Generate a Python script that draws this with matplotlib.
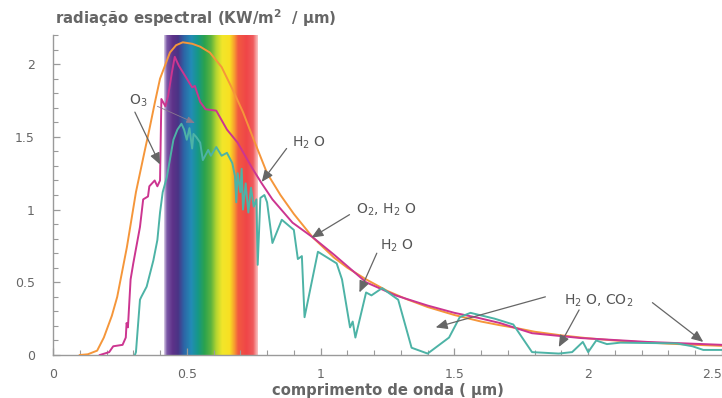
import numpy as np
import matplotlib
matplotlib.use("Agg")
import matplotlib.pyplot as plt
from matplotlib.colors import LinearSegmentedColormap
from matplotlib.ticker import MultipleLocator

plt.rcParams['font.family'] = ['DejaVu Sans']
plt.rcParams['mathtext.default'] = 'regular'

# Black-body curve (orange)
orange_x = [0.10, 0.13, 0.165, 0.19, 0.22, 0.24, 0.276, 0.31, 0.34, 0.36, 0.38, 0.40,
            0.437, 0.46, 0.485, 0.52, 0.55, 0.586, 0.63, 0.67, 0.71, 0.746, 0.80, 0.85,
            0.90, 0.97, 1.05, 1.10, 1.17, 1.25, 1.32, 1.40, 1.50, 1.60, 1.67, 1.73, 1.80,
            1.90, 2.00, 2.10, 2.20, 2.30, 2.40, 2.50]
orange_y = [0.0, 0.005, 0.03, 0.12, 0.27, 0.40, 0.74, 1.12, 1.38, 1.55, 1.73, 1.90,
            2.08, 2.13, 2.15, 2.14, 2.12, 2.08, 1.98, 1.83, 1.67, 1.50, 1.25, 1.10,
            0.97, 0.81, 0.67, 0.60, 0.52, 0.44, 0.385, 0.33, 0.275, 0.23, 0.205, 0.186, 0.16,
            0.135, 0.115, 0.10, 0.088, 0.078, 0.07, 0.063]

# Top of atmosphere (magenta)
top_x = [0.175, 0.21, 0.225, 0.26, 0.272, 0.275, 0.28, 0.29, 0.30, 0.325, 0.337, 0.355,
         0.36, 0.38, 0.39, 0.40, 0.405, 0.42, 0.43, 0.445, 0.455, 0.47, 0.50, 0.52, 0.53,
         0.55, 0.57, 0.61, 0.65, 0.69, 0.746, 0.78, 0.82, 0.895, 0.97, 1.05, 1.17, 1.28,
         1.40, 1.50, 1.59, 1.67, 1.79, 1.97, 2.22, 2.50]
top_y = [0.0, 0.02, 0.06, 0.07, 0.12, 0.22, 0.19, 0.52, 0.63, 0.88, 1.07, 1.09,
         1.16, 1.20, 1.16, 1.20, 1.76, 1.71, 1.78, 1.95, 2.05, 1.99, 1.90, 1.84, 1.85,
         1.74, 1.69, 1.68, 1.55, 1.46, 1.28, 1.18, 1.07, 0.91, 0.81, 0.69, 0.50, 0.41,
         0.34, 0.29, 0.255, 0.22, 0.15, 0.117, 0.09, 0.07]

# Sea level (teal)
sea_x = [0.306, 0.31, 0.325, 0.33, 0.35, 0.375, 0.39, 0.40, 0.41, 0.425, 0.45, 0.465,
         0.48, 0.49, 0.50, 0.51, 0.52, 0.525, 0.535, 0.55, 0.56, 0.58, 0.59, 0.61, 0.63,
         0.65, 0.67, 0.68, 0.685, 0.69, 0.70, 0.705, 0.71, 0.72, 0.73, 0.74, 0.75, 0.76,
         0.765, 0.775, 0.79, 0.80, 0.82, 0.855, 0.90, 0.915, 0.93, 0.94, 0.99, 1.06,
         1.08, 1.11, 1.12, 1.13, 1.17, 1.19, 1.23, 1.29, 1.34, 1.40, 1.48, 1.52, 1.56,
         1.65, 1.72, 1.79, 1.89, 1.94, 1.98, 2.00, 2.03, 2.07, 2.12, 2.33, 2.39, 2.43, 2.50]
sea_y = [0.0, 0.02, 0.38, 0.40, 0.47, 0.65, 0.79, 0.98, 1.12, 1.22, 1.48, 1.55,
         1.59, 1.55, 1.48, 1.56, 1.42, 1.52, 1.50, 1.46, 1.34, 1.41, 1.37, 1.43, 1.37,
         1.39, 1.32, 1.23, 1.05, 1.25, 1.12, 1.28, 1.00, 1.18, 0.98, 1.15, 1.02, 1.07,
         0.62, 1.08, 1.10, 1.05, 0.77, 0.93, 0.86, 0.66, 0.68, 0.26, 0.71, 0.63,
         0.52, 0.19, 0.23, 0.12, 0.43, 0.41, 0.46, 0.38, 0.05, 0.01, 0.12, 0.26, 0.29,
         0.25, 0.21, 0.02, 0.01, 0.02, 0.09, 0.02, 0.10, 0.075, 0.085, 0.08, 0.06, 0.035, 0.035]

# Visible band limits (µm)
visible = (0.415, 0.765)

x_ticks = [0, 0.5, 1, 1.5, 2, 2.5]
x_tick_labels = ["0", "0.5", "1", "1.5", "2", "2.5"]
y_ticks = [0, 0.5, 1, 1.5, 2]
y_tick_labels = ["0", "0.5", "1", "1.5", "2"]

notes = [
    # text, text position, arrows (start x, start y, tip x, tip y)
    ("O$_3$", (0.32, 1.75), [(0.306, 1.67, 0.40, 1.31)]),
    ("H$_2$ O", (0.955, 1.46), [(0.873, 1.42, 0.78, 1.19)]),
    ("O$_2$, H$_2$ O", (1.245, 0.995), [(1.108, 0.965, 0.966, 0.807)]),
    ("H$_2$ O", (1.285, 0.75), [(1.21, 0.70, 1.145, 0.43)]),
    ("H$_2$ O, CO$_2$", (2.04, 0.375), [(1.84, 0.40, 1.43, 0.19),
                                        (1.966, 0.31, 1.89, 0.055),
                                        (2.24, 0.36, 2.43, 0.09)]),
]

fig = plt.figure(figsize=(7.22, 3.98), dpi=100)
ax = fig.add_axes([0.0734, 0.108, 0.9266, 0.804])
ymax = 2.2
ax.set_xlim(0, 2.5)
ax.set_ylim(0, ymax)

# Rainbow band for the visible range
band_colors = [
    (0.00, "#d8cce6"), (0.03, "#7a57a6"), (0.09, "#5e3289"), (0.15, "#4a3486"),
    (0.21, "#2d64a6"), (0.29, "#238cb6"), (0.36, "#169888"), (0.43, "#2aa24e"),
    (0.50, "#5cb33f"), (0.56, "#b8d630"), (0.62, "#f2e62a"), (0.70, "#f8e022"),
    (0.745, "#f8a42e"), (0.79, "#f25a40"), (0.88, "#ef4648"), (0.95, "#f05a5c"),
    (1.00, "#f9c4c4"),
]
cmap = LinearSegmentedColormap.from_list("band", band_colors)
grad = np.linspace(0, 1, 256).reshape(1, -1)
ax.imshow(grad, extent=[visible[0], visible[1], 0, ymax], aspect='auto',
          cmap=cmap, interpolation='bilinear', zorder=1)

ax.plot(orange_x, orange_y, color="#f5963a", lw=1.4, zorder=3)
ax.plot(top_x, top_y, color="#cc3590", lw=1.4, zorder=4)
ax.plot(sea_x, sea_y, color="#4db3a6", lw=1.4, zorder=5)

for text, tpos, arrows in notes:
    ax.text(tpos[0], tpos[1], text, fontsize=10, color="#555555",
            ha='center', va='center', zorder=6)
    for x0, y0, x1, y1 in arrows:
        ax.annotate("", xy=(x1, y1), xytext=(x0, y0),
                    arrowprops=dict(arrowstyle='-|>,head_length=0.7,head_width=0.3',
                                    color="#666666", lw=0.9, shrinkA=0, shrinkB=0),
                    zorder=6)
# faint ozone pointer inside the band
ax.annotate("", xy=(0.53, 1.595), xytext=(0.39, 1.71),
            arrowprops=dict(arrowstyle='-|>,head_length=0.5,head_width=0.2',
                            color="#8a7a90", lw=0.6, shrinkA=0, shrinkB=0), zorder=6)

for side in ("top", "right"):
    ax.spines[side].set_visible(False)
for side in ("left", "bottom"):
    ax.spines[side].set_color("#9a9a9a")
    ax.spines[side].set_linewidth(1.0)

ax.set_xticks(x_ticks, x_tick_labels)
ax.set_yticks(y_ticks, y_tick_labels)
ax.xaxis.set_minor_locator(MultipleLocator(0.1))
ax.yaxis.set_minor_locator(MultipleLocator(0.1))
ax.tick_params(axis='both', which='both', direction='in', color="#9a9a9a",
               labelcolor="#666666", labelsize=9)
ax.tick_params(axis='both', which='major', length=5, width=0.9)
ax.tick_params(axis='both', which='minor', length=3.5, width=0.8)
ax.tick_params(axis='y', which='major', pad=13)
ax.tick_params(axis='x', which='major', pad=9)
ax.get_xticklabels()[-1].set_horizontalalignment('right')

fig.text(55 / 722, 1 - 18 / 398, "radiação espectral (KW/m$^2$  / µm)",
         fontsize=10.8, color="#666666", ha='left', va='center', fontweight='bold')
fig.text(388 / 722, 1 - 390 / 398, "comprimento de onda ( µm)",
         fontsize=10.6, color="#666666", ha='center', va='center', fontweight='bold')

fig.savefig("out.png", dpi=100)
